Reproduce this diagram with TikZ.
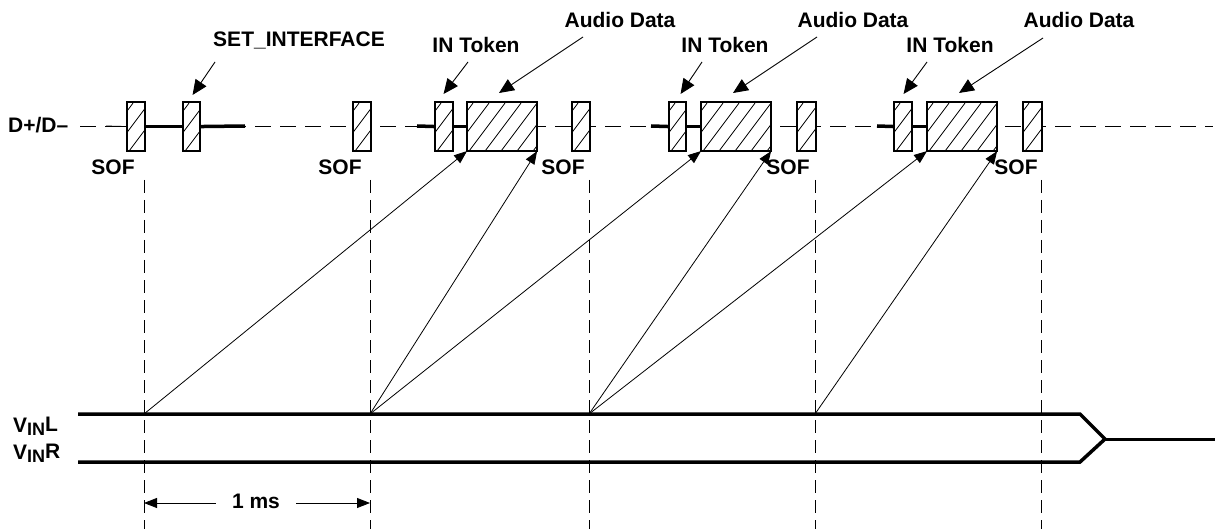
\documentclass[tikz,border=0pt]{standalone}
\usepackage{fontspec}
\setmainfont{Liberation Sans}
\usetikzlibrary{arrows.meta,calc}
\newcommand{\pktbox}[3]{%
  \node[pkt, minimum width=#3-#2] (#1) at (#2,102) {};
  \begin{scope}
    \clip (#1.south west) rectangle (#1.north east);
    \foreach \k in {0,...,8} \draw[hatch] ($(#1.south west)+(\k*16-30,0)$) -- ++(36,-48);
  \end{scope}
  \draw[line width=1.1pt] (#1.south west) rectangle (#1.north east);
}
\begin{document}
\begin{tikzpicture}[x=1pt,y=-1pt,
  lbl/.style={font=\fontsize{21}{25}\selectfont\bfseries, inner sep=0pt, anchor=base},
  pkt/.style={draw, line width=1.1pt, fill=white, inner sep=0pt, minimum height=48pt, anchor=north west},
  hatch/.style={line width=0.8pt},
  busln/.style={line width=3.5pt},
  vdash/.style={line width=0.8pt, dash pattern=on 13pt off 7pt},
  hdash/.style={line width=0.8pt, dash pattern=on 16pt off 9pt},
  sig/.style={line width=3.5pt, line join=miter},
  tri/.style={-{Triangle[length=13pt,width=10pt]}, line width=0.8pt},
  tribig/.style={-{Triangle[length=15pt,width=13pt]}, line width=0.9pt},
  ]
\useasboundingbox (0,0) rectangle (1220,529);

% D+/D- bus line
\node[lbl, anchor=base west] (dd) at (8,133) {D+/D–};
\coordinate (busL) at (80,126);
\coordinate (busR) at (1213,126);
\draw[hdash] (busL) -- (busR);

% vertical SOF timing lines
\foreach \x in {144,370,589,815,1041} \draw[vdash] (\x,180) -- (\x,529);

% packets
\pktbox{s1}{127}{144}
\pktbox{si}{183}{199}
\pktbox{s2}{353}{370}
\pktbox{t1}{435}{452}
\pktbox{a1}{467}{536}
\pktbox{s3}{572}{589}
\pktbox{t2}{669}{685}
\pktbox{a2}{701}{770}
\pktbox{s4}{797}{815}
\pktbox{t3}{894}{911}
\pktbox{a3}{927}{996}
\pktbox{s5}{1023}{1041}

% thin and thick bus segments
\coordinate (p0) at (106,126);
\draw[line width=0.8pt] (p0) -- (s1.west);
\coordinate (e1) at (245,126);
\draw[busln] (s1.east) -- (si.west);
\draw[busln] (si.east) -- (e1);
\coordinate (b1) at (417,126);
\coordinate (b2) at (651,126);
\coordinate (b3) at (877,126);
\draw[busln] (b1) -- (t1.west);
\draw[busln] (t1.east) -- (a1.west);
\draw[busln] (b2) -- (t2.west);
\draw[busln] (t2.east) -- (a2.west);
\draw[busln] (b3) -- (t3.west);
\draw[busln] (t3.east) -- (a3.west);

% SOF labels
\node[lbl] (sof1) at (113,175) {SOF};
\node[lbl] (sof2) at (340,175) {SOF};
\node[lbl] (sof3) at (563,175) {SOF};
\node[lbl] (sof4) at (788,175) {SOF};
\node[lbl] (sof5) at (1016,175) {SOF};

% top labels with arrows
\node[lbl] (lset) at (299,47) {SET\_INTERFACE};
\node[lbl] (lin1) at (476,53) {IN Token};
\node[lbl] (lin2) at (725,53) {IN Token};
\node[lbl] (lin3) at (950,53) {IN Token};
\node[lbl] (lad1) at (620,28) {Audio Data};
\node[lbl] (lad2) at (853,28) {Audio Data};
\node[lbl] (lad3) at (1079,28) {Audio Data};

\coordinate (cset) at (215,62);
\coordinate (cin1) at (468,62);
\coordinate (cin2) at (702,62);
\coordinate (cin3) at (927,62);
\coordinate (cad1) at (583,37);
\coordinate (cad2) at (817,37);
\coordinate (cad3) at (1043,38);
\draw[tribig] (cset) -- ($(si.north)+(1,-7)$);
\draw[tribig] (cin1) -- ($(t1.north)+(-0.5,-8)$);
\draw[tribig] (cin2) -- ($(t2.north)+(3,-8)$);
\draw[tribig] (cin3) -- ($(t3.north)+(0.5,-8)$);
\draw[tribig] (cad1) -- ($(a1.north west)+(32,-9)$);
\draw[tribig] (cad2) -- ($(a2.north west)+(32,-9)$);
\draw[tribig] (cad3) -- ($(a3.north west)+(32,-9)$);

% VIN signals
\node[lbl, anchor=base west] (vl) at (13,432) {V\raisebox{-3pt}{\fontsize{18}{18}\selectfont IN}\raisebox{1pt}{L}};
\node[lbl, anchor=base west] (vr) at (13,459) {V\raisebox{-3pt}{\fontsize{18}{18}\selectfont IN}\raisebox{1pt}{R}};
\coordinate (vt0) at (78,414);
\coordinate (vb0) at (78,462);
\coordinate (vm) at (1105,439);
\coordinate (vend) at (1215,439);
\draw[sig] (vt0) -- (1080,414) -- (vm) -- (1080,462) -- (vb0);
\draw[line width=3pt] (vm) -- (vend);

% sample arrows
\coordinate (v1) at (144,414);
\coordinate (v2) at (370,414);
\coordinate (v3) at (589,414);
\coordinate (v4) at (815,414);
\draw[tri] (v1) -- (a1.south west);
\draw[tri] (v2) -- (a1.south east);
\draw[tri] (v2) -- (a2.south west);
\draw[tri] (v3) -- (a2.south east);
\draw[tri] (v3) -- (a3.south west);
\draw[tri] (v4) -- (a3.south east);

% 1 ms
\node[lbl, inner xsep=16pt] (ms) at (256,508) {1 ms};
\coordinate (m1) at (144,503);
\coordinate (m2) at (370,503);
\draw[tri] (ms.west |- m1) -- (m1);
\draw[tri] (ms.east |- m2) -- (m2);
\end{tikzpicture}
\end{document}
